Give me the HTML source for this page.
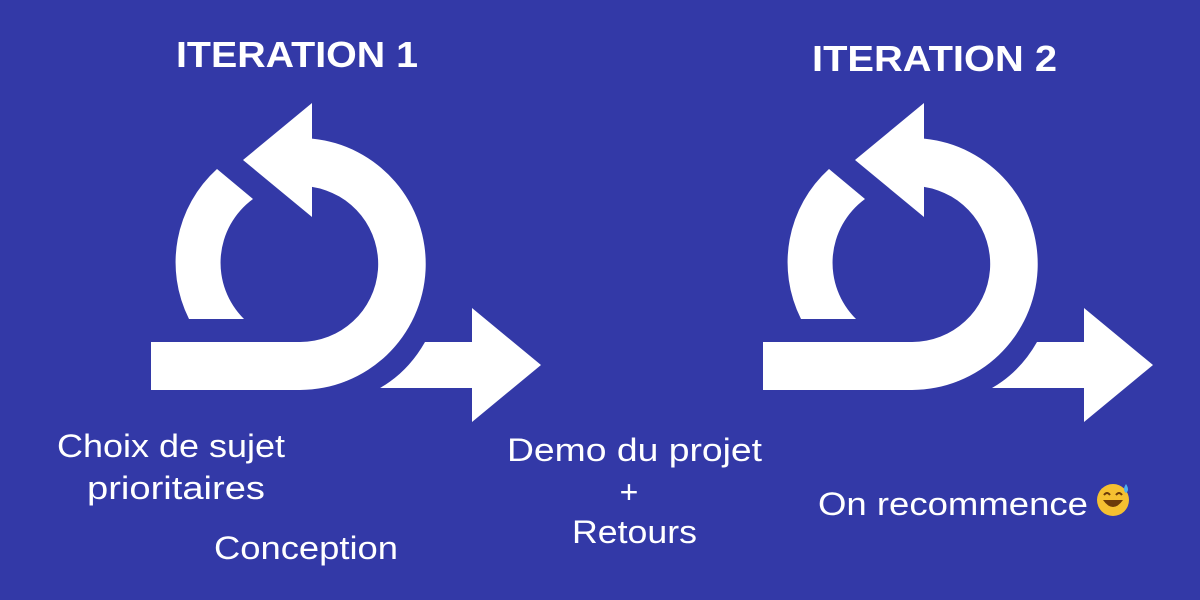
<!DOCTYPE html>
<html><head><meta charset="utf-8"><style>
html,body{margin:0;padding:0;background:#3339a7;}
svg{display:block}
text{font-family:"Liberation Sans",sans-serif;fill:#fff}
</style></head><body>
<svg width="1200" height="600" viewBox="0 0 1200 600">
<rect width="1200" height="600" fill="#3339a7"/>
<defs>
<g id="icon" fill="#fff">
<path d="M312,138.6 A126,126 0 0 1 300,390 L151,390 L151,342 L300,342 A78,78 0 0 0 312,186.9 L312,217 L243,160 L312,103 Z"/>
<path d="M217,169 A126,126 0 0 0 189,319 L244,319 A79,79 0 0 1 253,199 Z"/>
<path d="M380,388 Q408,372 425,342 L472,342 L472,308 L541,365 L472,422 L472,388 Z"/>
</g>
</defs>
<use href="#icon"/>
<use href="#icon" transform="translate(612,0)"/>
<text x="176" y="67" font-size="36" font-weight="bold" textLength="242" lengthAdjust="spacingAndGlyphs">ITERATION 1</text>
<text x="812" y="71" font-size="36" font-weight="bold" textLength="245" lengthAdjust="spacingAndGlyphs">ITERATION 2</text>
<g font-size="32">
<text x="57" y="457" textLength="228" lengthAdjust="spacingAndGlyphs">Choix de sujet</text>
<text x="87" y="499" textLength="178" lengthAdjust="spacingAndGlyphs">prioritaires</text>
<text x="214" y="559" textLength="184" lengthAdjust="spacingAndGlyphs">Conception</text>
<text x="507" y="461" textLength="255" lengthAdjust="spacingAndGlyphs">Demo du projet</text>
<text x="629" y="503" text-anchor="middle">+</text>
<text x="572" y="543" textLength="125" lengthAdjust="spacingAndGlyphs">Retours</text>
<text x="818" y="515" textLength="270" lengthAdjust="spacingAndGlyphs">On recommence</text>
</g>
<circle cx="1113" cy="500" r="16" fill="#f5c031"/>
<path d="M1103,500 Q1113,514 1123,500 Z" fill="#6b3a0a"/>
<path d="M1104,495 q3,-4 6,0 M1116,495 q3,-4 6,0" stroke="#6b3a0a" stroke-width="2" fill="none"/>
<path d="M1126,484 q-4,6 0,9 q4,-3 0,-9 Z" fill="#4fb0f0"/>
</svg>
</body></html>
